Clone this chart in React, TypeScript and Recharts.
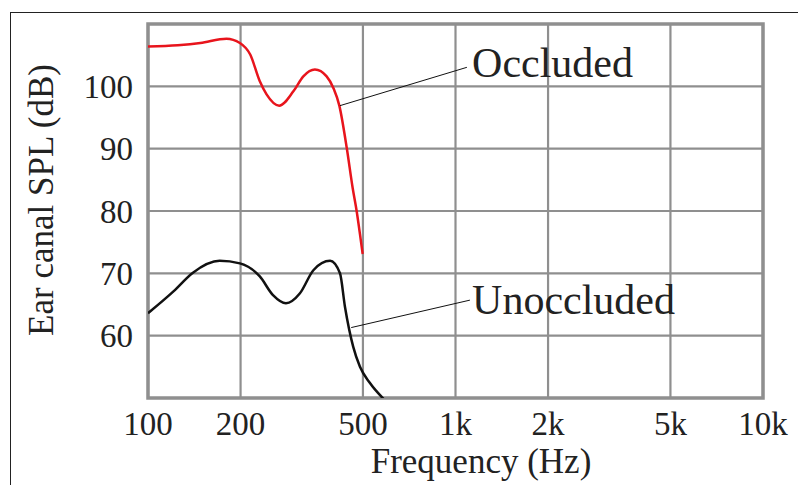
import React from 'react';
import {
  LineChart,
  Line,
  XAxis,
  YAxis,
  CartesianGrid,
  ReferenceArea,
  ReferenceLine,
  ReferenceDot,
} from 'recharts';

// Frequency response (Hz / dB)
const freqOccluded = [100, 125, 148, 180, 199, 215, 231, 243, 267, 297, 320, 349, 381, 401, 419, 443, 463, 477, 489, 499];
const splOccluded = [106.4, 106.6, 106.95, 107.65, 106.95, 105.1, 100.8, 98.7, 96.9, 99.2, 101.6, 102.7, 101.6, 99.7, 96.9, 90.1, 83.7, 80, 76.3, 73.1];

const freqUnoccluded = [100, 121, 140, 171, 199, 231, 255, 281, 312, 345, 391, 421, 437, 465, 489, 527, 585];
const splUnoccluded = [63.6, 67.1, 70.1, 72.0, 71.6, 69.5, 66.5, 65.2, 66.8, 70.5, 72.0, 70.0, 64.65, 58.2, 55.0, 52.4, 49.8];

const xTicks = [100, 200, 500, 1000, 2000, 5000, 10000];
const xTickLabels = ['100', '200', '500', '1k', '2k', '5k', '10k'];
const yTicks = [60, 70, 80, 90, 100];

const occluded = freqOccluded.map((f, i) => ({ f, spl: splOccluded[i] }));
const unoccluded = freqUnoccluded.map((f, i) => ({ f, spl: splUnoccluded[i] }));

const SERIF = '"Liberation Serif", "Times New Roman", serif';
const GRID = '#8f8f8f';
const INK = '#222';

const App: React.FC = () => {
  return (
    <div style={{ position: 'fixed', left: 0, top: 0, width: 798, height: 485, background: '#fff' }}>
      <div
        style={{
          position: 'absolute',
          left: 10,
          top: 12,
          width: 788,
          height: 473,
          borderTop: '1px solid #222',
          borderLeft: '1px solid #222',
        }}
      />
      <LineChart
        width={798}
        height={485}
        margin={{ top: 24, right: 35, bottom: 37, left: 68 }}
        style={{ position: 'absolute', left: 0, top: 0 }}
      >
        <CartesianGrid stroke={GRID} strokeWidth={2.2} />
        <XAxis
          dataKey="f"
          type="number"
          scale="log"
          domain={[100, 10000]}
          ticks={xTicks}
          tickFormatter={(v: number) => xTickLabels[xTicks.indexOf(v)] ?? String(v)}
          allowDataOverflow
          axisLine={false}
          tickLine={false}
          tickMargin={8}
          height={50}
          tick={{ fontSize: 33, fill: INK, fontFamily: SERIF }}
          label={{
            content: () => (
              <text x={481} y={473} textAnchor="middle" fontSize={35} fill={INK} fontFamily={SERIF}>
                Frequency (Hz)
              </text>
            ),
          }}
        />
        <YAxis
          type="number"
          domain={[50, 110]}
          ticks={yTicks}
          allowDataOverflow
          axisLine={false}
          tickLine={false}
          tickMargin={9}
          width={80}
          tick={{ fontSize: 33, fill: INK, fontFamily: SERIF }}
          label={{
            content: () => (
              <text
                x={53}
                y={200}
                transform="rotate(-90 53 200)"
                textAnchor="middle"
                fontSize={35}
                fill={INK}
                fontFamily={SERIF}
              >
                Ear canal SPL (dB)
              </text>
            ),
          }}
        />
        <ReferenceArea x1={100} x2={10000} y1={50} y2={110} fill="none" stroke={GRID} strokeWidth={3.5} ifOverflow="visible" />
        <Line
          data={occluded}
          dataKey="spl"
          type="monotone"
          stroke="#e8141c"
          strokeWidth={2.5}
          dot={false}
          isAnimationActive={false}
        />
        <Line
          data={unoccluded}
          dataKey="spl"
          type="monotone"
          stroke="#111"
          strokeWidth={2.5}
          dot={false}
          isAnimationActive={false}
        />
        <ReferenceLine
          segment={[{ x: 421, y: 96.9 }, { x: 1089, y: 103.05 }]}
          stroke="#111"
          strokeWidth={1}
          ifOverflow="visible"
        />
        <ReferenceLine
          segment={[{ x: 458, y: 61.3 }, { x: 1114, y: 65.7 }]}
          stroke="#111"
          strokeWidth={1}
          ifOverflow="visible"
        />
        <ReferenceDot
          x={1132}
          y={103.85}
          r={0}
          fill="none"
          stroke="none"
          ifOverflow="visible"
          label={{ value: 'Occluded', position: 'right', offset: 0, fontSize: 42, fill: INK, fontFamily: SERIF }}
        />
        <ReferenceDot
          x={1132}
          y={65.9}
          r={0}
          fill="none"
          stroke="none"
          ifOverflow="visible"
          label={{ value: 'Unoccluded', position: 'right', offset: 0, fontSize: 42, fill: INK, fontFamily: SERIF }}
        />
      </LineChart>
    </div>
  );
};

export default App;
